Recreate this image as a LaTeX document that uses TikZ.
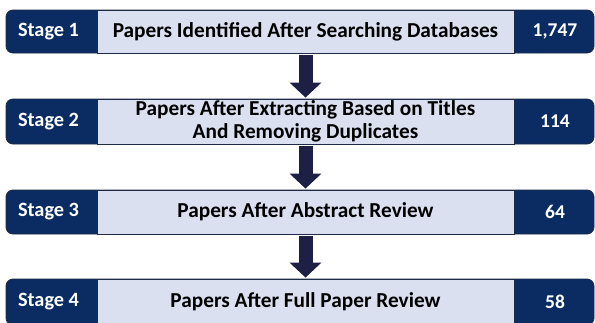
\documentclass[tikz,border=0pt]{standalone}
\usepackage{fontspec}
\setmainfont{Carlito}
\usetikzlibrary{arrows.meta}
\definecolor{navy}{HTML}{0B2C62}
\definecolor{lav}{HTML}{DAE0F0}
\definecolor{edge}{HTML}{1E2A46}
\definecolor{arrowc}{HTML}{1D1F45}
\tikzset{
  rowbg/.style={fill=navy, draw=edge, line width=0.8pt, rounded corners=7pt},
  midbox/.style={fill=lav, draw=edge, line width=0.8pt, minimum width=417pt, inner sep=0pt, font=\bfseries\fontsize{21.3}{23}\selectfont, align=center, text=black},
  stagelbl/.style={text=white, font=\bfseries\fontsize{20.3}{23}\selectfont, inner sep=0pt},
  countlbl/.style={text=white, font=\bfseries\fontsize{19.5}{23}\selectfont, inner sep=0pt},
  flow/.style={draw=arrowc, line width=14pt, -{Triangle[width=31pt,length=15pt]}, shorten <=2pt, shorten >=1pt}
}
\begin{document}
\begin{tikzpicture}[x=1pt,y=-1pt]
\useasboundingbox (0,0) rectangle (595,322);
\clip (0,0) rectangle (595,322);
% row 1
\path[rowbg] (6,10) rectangle (594,53);
\node[midbox, minimum height=43pt] (m1) at (305.5,31.5) {Papers Identified After Searching Databases};
\node[stagelbl] (s1) at (48.5,31.5) {Stage 1};
\node[countlbl] (c1) at (555,31.5) {1,747};
% row 2
\path[rowbg] (6,99) rectangle (594,144);
\node[midbox, minimum height=45pt] (m2) at (305.5,121.5) {Papers After Extracting Based on Titles\\And Removing Duplicates};
\node[stagelbl] (s2) at (48.5,121.5) {Stage 2};
\node[countlbl] (c2) at (555,121.5) {114};
% row 3
\path[rowbg] (6,190) rectangle (594,234);
\node[midbox, minimum height=44pt] (m3) at (305.5,212) {Papers After Abstract Review};
\node[stagelbl] (s3) at (48.5,212) {Stage 3};
\node[countlbl] (c3) at (555,212) {64};
% row 4
\path[rowbg] (6,279) rectangle (594,325);
\node[midbox, minimum height=46pt] (m4) at (305.5,302) {Papers After Full Paper Review};
\node[stagelbl] (s4) at (48.5,302) {Stage 4};
\node[countlbl] (c4) at (555,302) {58};
% arrows
\draw[flow] (m1.south) -- (m2.north);
\draw[flow] (m2.south) -- (m3.north);
\draw[flow] (m3.south) -- (m4.north);
\end{tikzpicture}
\end{document}
